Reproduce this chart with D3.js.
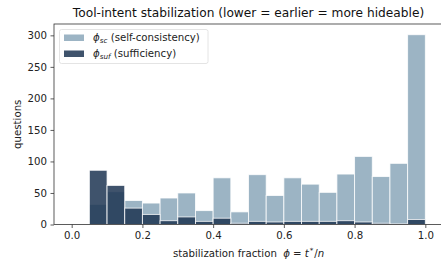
<!DOCTYPE html>
<html><head><meta charset="utf-8">
<script src="https://cdn.jsdelivr.net/npm/d3@7/dist/d3.min.js"></script>
<style>body{margin:0;background:#fff}svg{display:block;font-family:"DejaVu Sans",sans-serif}</style>
</head><body><svg id="c" width="441" height="260"></svg>
<script>
const binEdges = [0,0.05,0.1,0.15,0.2,0.25,0.3,0.35,0.4,0.45,0.5,0.55,0.6,0.65,0.7,0.75,0.8,0.85,0.9,0.95,1.0];
const scValues = [0,32,52,38,34,42,50,22,74,20,79,46,74,64,51,80,108,76,97,301];
const sufValues = [0,86,62,26,16,6,12,5,10,2,5,4,5,5,5,6,4,2,1,8];
const xTicks = [0,0.2,0.4,0.6,0.8,1.0];
const yTicks = [0,50,100,150,200,250,300];

const svg = d3.select("#c");
const x = d3.scaleLinear().domain([-0.05,1.05]).range([54,443]);
const y = d3.scaleLinear().domain([0,318]).range([224.5,24]);
const lightCol = "#8ba7ba", darkCol = "#1d3552", alpha = 0.85;
const fs = 10.2;

function drawBars(vals, col){
  svg.append("g").selectAll("rect").data(vals).join("rect")
    .attr("x",(d,i)=>x(binEdges[i])).attr("width",(d,i)=>x(binEdges[i+1])-x(binEdges[i]))
    .attr("y",d=>y(d)).attr("height",d=>y(0)-y(d))
    .attr("fill",col).attr("fill-opacity",alpha)
    .attr("stroke","#fff").attr("stroke-width",0.9).attr("stroke-opacity",alpha)
    .style("display",d=>d>0?null:"none");
}
drawBars(scValues, lightCol);
drawBars(sufValues, darkCol);

// axes
const xa = svg.append("g").attr("transform",`translate(0,${y(0)})`)
  .call(d3.axisBottom(x).tickValues(xTicks).tickFormat(d3.format(".1f")).tickSize(3.5).tickPadding(3.5));
const ya = svg.append("g").attr("transform",`translate(${x(-0.05)},0)`)
  .call(d3.axisLeft(y).tickValues(yTicks).tickSize(3.5).tickPadding(3.5));
[xa,ya].forEach(a=>{
  a.select(".domain").remove();
  a.selectAll("line").attr("stroke","#333").attr("stroke-width",0.8);
  a.selectAll("text").attr("fill","#222").style("font-size",fs+"px").style("font-family","DejaVu Sans");
});
// spines
const x0=x(-0.05), x1=x(1.05), y0=y(0), y1=y(318);
svg.append("rect").attr("x",x0).attr("y",y1).attr("width",x1-x0).attr("height",y0-y1)
  .attr("fill","none").attr("stroke","#333").attr("stroke-width",0.8);

// title
svg.append("text").attr("x",(x0+x1)/2).attr("y",17).attr("text-anchor","middle")
  .style("font-size","12.2px").attr("fill","#111").text("Tool-intent stabilization (lower = earlier = more hideable)");

// y label
svg.append("text").attr("transform",`translate(21,${(y0+y1)/2}) rotate(-90)`).attr("text-anchor","middle")
  .style("font-size",fs+"px").attr("fill","#222").text("questions");

// x label
const xl = svg.append("text").attr("x",(x0+x1)/2).attr("y",257).attr("text-anchor","middle")
  .style("font-size",fs+"px").attr("fill","#222").attr("xml:space","preserve");
xl.append("tspan").text("stabilization fraction  ");
xl.append("tspan").style("font-style","italic").text("ϕ");
xl.append("tspan").attr("dx",3).text("=");
xl.append("tspan").attr("dx",3).style("font-style","italic").text("t");
xl.append("tspan").attr("dy",-3.8).attr("dx",1).style("font-size","7.2px").text("*");
xl.append("tspan").attr("dy",3.8).attr("dx",1).text("/");
xl.append("tspan").style("font-style","italic").text("n");

// legend
const lg = svg.append("g");
lg.append("rect").attr("x",59.5).attr("y",29.5).attr("width",148.5).attr("height",34).attr("rx",2)
  .attr("fill","#fff").attr("fill-opacity",0.8).attr("stroke","#ddd").attr("stroke-width",0.8);
const items = [{sym:"ϕ",sub:"sc",rest:" (self-consistency)",col:lightCol},{sym:"ϕ",sub:"suf",rest:" (sufficiency)",col:darkCol}];
items.forEach((it,i)=>{
  const cy = 37.5 + i*16;
  lg.append("rect").attr("x",64).attr("y",cy-3).attr("width",20).attr("height",6.5)
    .attr("fill",it.col).attr("fill-opacity",alpha);
  const t = lg.append("text").attr("x",93).attr("y",cy+3.5).style("font-size",fs+"px").attr("fill","#222");
  t.append("tspan").style("font-style","italic").text(it.sym);
  t.append("tspan").style("font-style","italic").style("font-size","7.2px").attr("dy",1.8).text(it.sub);
  t.append("tspan").attr("dy",-1.8).text(it.rest);
});
</script></body></html>
